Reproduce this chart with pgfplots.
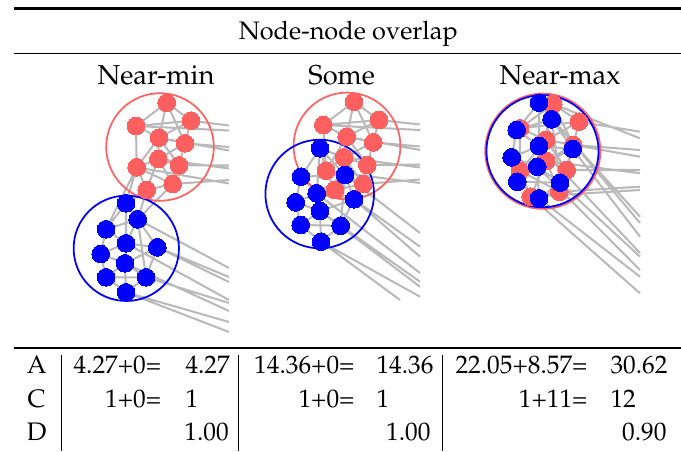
\documentclass[border=0pt]{standalone}
\usepackage[T1]{fontenc}
\usepackage{mathpazo}
\usepackage{pgfplots}
\pgfplotsset{compat=1.18}
\definecolor{nred}{RGB}{255,95,95}
\definecolor{cred}{RGB}{255,100,100}
\definecolor{nblue}{RGB}{0,0,255}
\definecolor{edgegray}{RGB}{185,185,185}
\begin{document}
\begin{tikzpicture}
\useasboundingbox (0,0) rectangle (268.995pt,-178.145pt);
\begin{axis}[
  at={(0,0)}, anchor=north west,
  scale only axis, width=268.995pt, height=178.145pt,
  xmin=0, xmax=681, ymin=0, ymax=451, y dir=reverse,
  hide axis, clip=false,
  edge/.style={draw=edgegray, line width=0.8pt, unbounded coords=jump, mark=none},
  rnode/.style={only marks, mark=*, mark size=3.5pt, mark options={draw=nred, fill=nred, line width=0pt}},
  bnode/.style={only marks, mark=*, mark size=3.5pt, mark options={draw=nblue, fill=nblue, line width=0pt}},
]
% ---------------- Panel 1: Near-min ----------------
\addplot[edge] coordinates {
(166.7,102.7) (136,126) (nan,nan)
(166.7,102.7) (191,120.7) (nan,nan)
(166.7,102.7) (159,137.7) (nan,nan)
(166.7,102.7) (185,143.3) (nan,nan)
(136,126) (191,120.7) (nan,nan)
(136,126) (159,137.7) (nan,nan)
(136,126) (136.7,167.3) (nan,nan)
(191,120.7) (159,137.7) (nan,nan)
(191,120.7) (185,143.3) (nan,nan)
(159,137.7) (185,143.3) (nan,nan)
(159,137.7) (158.3,159) (nan,nan)
(159,137.7) (179,165.3) (nan,nan)
(185,143.3) (158.3,159) (nan,nan)
(185,143.3) (179,165.3) (nan,nan)
(158.3,159) (179,165.3) (nan,nan)
(158.3,159) (136.7,167.3) (nan,nan)
(158.3,159) (146.7,190) (nan,nan)
(158.3,159) (172.7,184) (nan,nan)
(179,165.3) (172.7,184) (nan,nan)
(136.7,167.3) (146.7,190) (nan,nan)
(136.7,167.3) (172.7,184) (nan,nan)
(146.7,190) (172.7,184) (nan,nan)
(159,137.7) (136.7,167.3) (nan,nan)
(191,120.7) (229,125.5) (nan,nan)
(136,126) (229,130.5) (nan,nan)
(185,143.3) (229,147) (nan,nan)
(159,137.7) (229,150.5) (nan,nan)
(179,165.3) (229,165.5) (nan,nan)
(158.3,159) (229,168.5) (nan,nan)
(172.7,184) (229,180) (nan,nan)
(136.7,167.3) (229,183.5) (nan,nan)
(136.7,167.3) (126,203.3) (nan,nan)
(146.7,190) (126,203.3) (nan,nan)
(146.7,190) (137.7,219.3) (nan,nan)
(172.7,184) (137.7,219.3) (nan,nan)
(136.7,167.3) (106,229.3) (nan,nan)
(126,203.3) (137.7,219.3) (nan,nan)
(126,203.3) (106,229.3) (nan,nan)
(126,203.3) (126,243.3) (nan,nan)
(137.7,219.3) (106,229.3) (nan,nan)
(137.7,219.3) (126,243.3) (nan,nan)
(137.7,219.3) (157.3,247.3) (nan,nan)
(137.7,219.3) (146,277.3) (nan,nan)
(106,229.3) (126,243.3) (nan,nan)
(106,229.3) (100.7,254) (nan,nan)
(126,243.3) (157.3,247.3) (nan,nan)
(126,243.3) (100.7,254) (nan,nan)
(126,243.3) (125,263.3) (nan,nan)
(157.3,247.3) (125,263.3) (nan,nan)
(157.3,247.3) (146,277.3) (nan,nan)
(100.7,254) (125,263.3) (nan,nan)
(100.7,254) (106,277.3) (nan,nan)
(125,263.3) (106,277.3) (nan,nan)
(125,263.3) (146,277.3) (nan,nan)
(125,263.3) (126,292.3) (nan,nan)
(106,277.3) (146,277.3) (nan,nan)
(106,277.3) (126,292.3) (nan,nan)
(146,277.3) (126,292.3) (nan,nan)
(137.7,219.3) (229,268) (nan,nan)
(157.3,247.3) (229,277) (nan,nan)
(157.3,247.3) (229,282) (nan,nan)
(126,243.3) (229,300) (nan,nan)
(146,277.3) (229,303) (nan,nan)
(125,263.3) (229,311) (nan,nan)
(126,292.3) (229,322) (nan,nan)
(126,292.3) (229,332)
};
\addplot[only marks, mark=o, mark size=21.25pt, mark options={draw=cred, line width=0.7pt}] coordinates {(160,147)};
\addplot[only marks, mark=o, mark size=20.8pt, mark options={draw=nblue, line width=0.7pt}] coordinates {(126.3,248.3)};
\addplot[rnode] coordinates {(166.7,102.7) (136,126) (191,120.7) (159,137.7) (185,143.3) (158.3,159) (179,165.3) (136.7,167.3) (146.7,190) (172.7,184)};
\addplot[bnode] coordinates {(126,203.3) (137.7,219.3) (106,229.3) (126,243.3) (157.3,247.3) (100.7,254) (125,263.3) (106,277.3) (146,277.3) (126,292.3)};
% ---------------- Panel 2: Some ----------------
\addplot[edge] coordinates {
(354,101.7) (323.3,125) (nan,nan)
(354,101.7) (379,120) (nan,nan)
(354,101.7) (346.7,136.7) (nan,nan)
(354,101.7) (373.3,142.3) (nan,nan)
(323.3,125) (379,120) (nan,nan)
(323.3,125) (346.7,136.7) (nan,nan)
(323.3,125) (326,170.7) (nan,nan)
(379,120) (346.7,136.7) (nan,nan)
(379,120) (373.3,142.3) (nan,nan)
(346.7,136.7) (373.3,142.3) (nan,nan)
(346.7,136.7) (344,157.3) (nan,nan)
(346.7,136.7) (367.3,165) (nan,nan)
(373.3,142.3) (344,157.3) (nan,nan)
(373.3,142.3) (367.3,165) (nan,nan)
(344,157.3) (367.3,165) (nan,nan)
(344,157.3) (326,170.7) (nan,nan)
(344,157.3) (335,190) (nan,nan)
(344,157.3) (363.3,184) (nan,nan)
(367.3,165) (363.3,184) (nan,nan)
(326,170.7) (335,190) (nan,nan)
(326,170.7) (363.3,184) (nan,nan)
(335,190) (363.3,184) (nan,nan)
(346.7,136.7) (326,170.7) (nan,nan)
(379,120) (420,124.5) (nan,nan)
(323.3,125) (420,130) (nan,nan)
(373.3,142.3) (420,146.5) (nan,nan)
(346.7,136.7) (420,150) (nan,nan)
(367.3,165) (420,164.5) (nan,nan)
(344,157.3) (420,167.5) (nan,nan)
(363.3,184) (420,179.5) (nan,nan)
(326,170.7) (420,183) (nan,nan)
(326,170.7) (320,148.3) (nan,nan)
(335,190) (345,175) (nan,nan)
(335,190) (316.7,193.3) (nan,nan)
(363.3,184) (345,175) (nan,nan)
(344,157.3) (320,148.3) (nan,nan)
(320,148.3) (345,175) (nan,nan)
(320,148.3) (301,176.7) (nan,nan)
(320,148.3) (316.7,193.3) (nan,nan)
(345,175) (301,176.7) (nan,nan)
(345,175) (316.7,193.3) (nan,nan)
(345,175) (354,199.3) (nan,nan)
(345,175) (340.7,225.7) (nan,nan)
(301,176.7) (316.7,193.3) (nan,nan)
(301,176.7) (295.7,202.3) (nan,nan)
(316.7,193.3) (354,199.3) (nan,nan)
(316.7,193.3) (295.7,202.3) (nan,nan)
(316.7,193.3) (320,211) (nan,nan)
(354,199.3) (320,211) (nan,nan)
(354,199.3) (340.7,225.7) (nan,nan)
(295.7,202.3) (320,211) (nan,nan)
(295.7,202.3) (300.7,225) (nan,nan)
(320,211) (300.7,225) (nan,nan)
(320,211) (340.7,225.7) (nan,nan)
(320,211) (321,241.7) (nan,nan)
(300.7,225) (340.7,225.7) (nan,nan)
(300.7,225) (321,241.7) (nan,nan)
(340.7,225.7) (321,241.7) (nan,nan)
(345,175) (420,233) (nan,nan)
(354,199.3) (420,246.7) (nan,nan)
(354,199.3) (420,256.7) (nan,nan)
(316.7,193.3) (420,273) (nan,nan)
(340.7,225.7) (420,281.7) (nan,nan)
(320,211) (420,286.7) (nan,nan)
(321,241.7) (420,296.7) (nan,nan)
(321,241.7) (400,300)
};
\addplot[only marks, mark=o, mark size=21.1pt, mark options={draw=cred, line width=0.7pt}] coordinates {(347,146)};
\addplot[only marks, mark=o, mark size=21.45pt, mark options={draw=nblue, line width=0.7pt}] coordinates {(319.7,194)};
\addplot[rnode] coordinates {(354,101.7) (323.3,125) (379,120) (346.7,136.7) (373.3,142.3) (344,157.3) (367.3,165) (326,170.7) (335,190) (363.3,184)};
\addplot[bnode] coordinates {(320,148.3) (345,175) (301,176.7) (316.7,193.3) (354,199.3) (295.7,202.3) (320,211) (300.7,225) (340.7,225.7) (321,241.7)};
% ---------------- Panel 3: Near-max ----------------
\addplot[edge] coordinates {
(553.3,104) (520,128.3) (nan,nan)
(553.3,104) (579,121.7) (nan,nan)
(553.3,104) (546,140) (nan,nan)
(553.3,104) (573.3,145) (nan,nan)
(520,128.3) (579,121.7) (nan,nan)
(520,128.3) (546,140) (nan,nan)
(520,128.3) (520,170.7) (nan,nan)
(579,121.7) (546,140) (nan,nan)
(579,121.7) (573.3,145) (nan,nan)
(546,140) (573.3,145) (nan,nan)
(546,140) (546,161) (nan,nan)
(546,140) (566.7,170) (nan,nan)
(573.3,145) (546,161) (nan,nan)
(573.3,145) (566.7,170) (nan,nan)
(546,161) (566.7,170) (nan,nan)
(546,161) (520,170.7) (nan,nan)
(546,161) (530.7,196.7) (nan,nan)
(546,161) (559.3,191.7) (nan,nan)
(566.7,170) (559.3,191.7) (nan,nan)
(520,170.7) (530.7,196.7) (nan,nan)
(520,170.7) (559.3,191.7) (nan,nan)
(530.7,196.7) (559.3,191.7) (nan,nan)
(546,140) (520,170.7) (nan,nan)
(579,121.7) (640,131.7) (nan,nan)
(553.3,104) (640,138.3) (nan,nan)
(573.3,145) (640,150) (nan,nan)
(546,140) (640,156.7) (nan,nan)
(566.7,170) (640,170) (nan,nan)
(546,161) (640,173.3) (nan,nan)
(559.3,191.7) (640,186.7) (nan,nan)
(530.7,196.7) (640,190) (nan,nan)
(539,102.7) (551.7,119.3) (nan,nan)
(539,102.7) (516.7,130) (nan,nan)
(539,102.7) (539,146) (nan,nan)
(551.7,119.3) (516.7,130) (nan,nan)
(551.7,119.3) (539,146) (nan,nan)
(551.7,119.3) (572.7,149) (nan,nan)
(551.7,119.3) (560,182.7) (nan,nan)
(516.7,130) (539,146) (nan,nan)
(516.7,130) (511.7,157.3) (nan,nan)
(539,146) (572.7,149) (nan,nan)
(539,146) (511.7,157.3) (nan,nan)
(539,146) (537.3,166.7) (nan,nan)
(572.7,149) (537.3,166.7) (nan,nan)
(572.7,149) (560,182.7) (nan,nan)
(511.7,157.3) (537.3,166.7) (nan,nan)
(511.7,157.3) (517.3,181.7) (nan,nan)
(537.3,166.7) (517.3,181.7) (nan,nan)
(537.3,166.7) (560,182.7) (nan,nan)
(537.3,166.7) (539,198.3) (nan,nan)
(517.3,181.7) (560,182.7) (nan,nan)
(517.3,181.7) (539,198.3) (nan,nan)
(560,182.7) (539,198.3) (nan,nan)
(551.7,119.3) (640,216.7) (nan,nan)
(539,102.7) (640,223) (nan,nan)
(572.7,149) (640,236.7) (nan,nan)
(539,146) (640,253) (nan,nan)
(560,182.7) (640,256.7) (nan,nan)
(537.3,166.7) (640,270) (nan,nan)
(539,198.3) (640,276.7) (nan,nan)
(530.7,196.7) (640,293.3)
};
\addplot[only marks, mark=o, mark size=22.7pt, mark options={draw=cred, line width=0.8pt}] coordinates {(542.8,151.2)};
\addplot[only marks, mark=o, mark size=22.15pt, mark options={draw=nblue, line width=0.7pt}] coordinates {(542.5,151.2)};
\addplot[rnode] coordinates {(553.3,104) (520,128.3) (579,121.7) (546,140) (573.3,145) (546,161) (566.7,170) (520,170.7) (530.7,196.7) (559.3,191.7)};
\addplot[bnode] coordinates {(539,102.7) (551.7,119.3) (516.7,130) (539,146) (572.7,149) (511.7,157.3) (537.3,166.7) (517.3,181.7) (560,182.7) (539,198.3)};
% ---------------- Rules and text ----------------
\draw[line width=0.8pt] (axis cs:14,8.5) -- (axis cs:681,8.5);
\draw[line width=0.5pt] (axis cs:14,53.3) -- (axis cs:681,53.3);
\draw[line width=0.5pt] (axis cs:14,348) -- (axis cs:681,348);
\draw[line width=0.4pt] (axis cs:61.7,355) -- (axis cs:61.7,451);
\draw[line width=0.4pt] (axis cs:238.3,355) -- (axis cs:238.3,451);
\draw[line width=0.4pt] (axis cs:442,355) -- (axis cs:442,451);
\node[anchor=base, inner sep=0pt] at (axis cs:348.3,39.3) {Node-node overlap};
\node[anchor=base, inner sep=0pt, scale=1.08] at (axis cs:156,84) {Near-min};
\node[anchor=base, inner sep=0pt, scale=1.08] at (axis cs:341.7,84) {Some};
\node[anchor=base, inner sep=0pt, scale=1.08] at (axis cs:560,84) {Near-max};
\node[anchor=base, inner sep=0pt] at (axis cs:36.7,373) {A};
\node[anchor=base, inner sep=0pt] at (axis cs:36.7,407.5) {C};
\node[anchor=base, inner sep=0pt] at (axis cs:36.7,440) {D};
\node[anchor=base east, inner sep=0pt] at (axis cs:161.7,373) {4.27+0=};
\node[anchor=base west, inner sep=0pt] at (axis cs:185,373) {4.27};
\node[anchor=base east, inner sep=0pt] at (axis cs:161.7,407.5) {1+0=};
\node[anchor=base west, inner sep=0pt] at (axis cs:185,407.5) {1};
\node[anchor=base east, inner sep=0pt] at (axis cs:229.3,440) {1.00};
\node[anchor=base east, inner sep=0pt] at (axis cs:355,373) {14.36+0=};
\node[anchor=base west, inner sep=0pt] at (axis cs:376,373) {14.36};
\node[anchor=base east, inner sep=0pt] at (axis cs:355,407.5) {1+0=};
\node[anchor=base west, inner sep=0pt] at (axis cs:376,407.5) {1};
\node[anchor=base east, inner sep=0pt] at (axis cs:431,440) {1.00};
\node[anchor=base east, inner sep=0pt] at (axis cs:588,373) {22.05+8.57=};
\node[anchor=base west, inner sep=0pt] at (axis cs:610,373) {30.62};
\node[anchor=base east, inner sep=0pt] at (axis cs:588,407.5) {1+11=};
\node[anchor=base west, inner sep=0pt] at (axis cs:610,407.5) {12};
\node[anchor=base east, inner sep=0pt] at (axis cs:667,440) {0.90};
\end{axis}
\end{tikzpicture}
\end{document}
